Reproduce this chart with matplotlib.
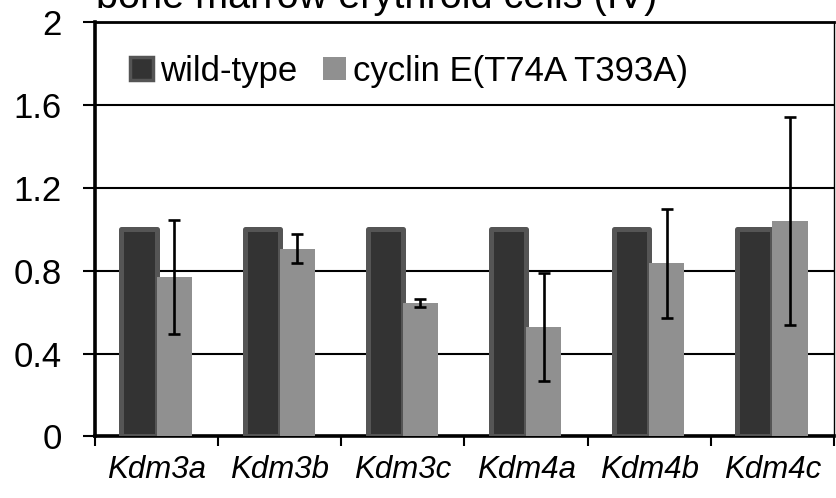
import numpy as np
import matplotlib
matplotlib.use('Agg')
import matplotlib.pyplot as plt
from matplotlib.patches import Patch

plt.rcParams['font.family'] = ['Liberation Sans', 'DejaVu Sans']

genes = ['Kdm3a', 'Kdm3b', 'Kdm3c', 'Kdm4a', 'Kdm4b', 'Kdm4c']
wild_type = [1.0, 1.0, 1.0, 1.0, 1.0, 1.0]
mutant = [0.77, 0.905, 0.645, 0.53, 0.835, 1.04]
mutant_err = [0.275, 0.07, 0.02, 0.26, 0.265, 0.50]
y_ticks = [0, 0.4, 0.8, 1.2, 1.6, 2]
y_tick_labels = ['0', '0.4', '0.8', '1.2', '1.6', '2']

dark = '#333333'
dark_edge = '#555555'
light = '#909090'

fig = plt.figure(figsize=(8.36, 4.98), dpi=100)
ax = fig.add_axes([0.1136, 0.1235, 0.8840, 0.8323])

x = np.arange(len(genes))
w = 0.285

ax.bar(x - w / 2, wild_type, w, color=dark, edgecolor=dark_edge,
       linewidth=3.6, joinstyle='round', zorder=3)
ax.bar(x + w / 2, mutant, w, color=light, linewidth=0, zorder=4)
ax.errorbar(x + w / 2, mutant, yerr=mutant_err, fmt='none', ecolor='black',
            elinewidth=1.9, capsize=4.3, capthick=1.9, zorder=5)

ax.set_xlim(-0.5, len(genes) - 0.5)
ax.set_ylim(0, 2)
ax.set_yticks(y_ticks)
ax.set_yticklabels(y_tick_labels, fontsize=25)
ax.tick_params(axis='y', direction='out', length=9, width=1.5, pad=15)

ax.set_xticks(x)
ax.set_xticklabels(genes, fontsize=22.5, style='italic')
ax.tick_params(axis='x', which='major', length=0, pad=13)
ax.set_xticks(np.arange(len(genes) + 1) - 0.5, minor=True)
ax.tick_params(axis='x', which='minor', direction='out', length=7, width=1.5)

ax.yaxis.grid(True, color='black', linewidth=1.5, zorder=0)
ax.set_axisbelow(True)

ax.spines['left'].set_linewidth(2.6)
ax.spines['bottom'].set_linewidth(2.6)
ax.spines['top'].set_linewidth(2.0)
ax.spines['right'].set_linewidth(1.0)

handles = [Patch(facecolor=dark, edgecolor=dark_edge, linewidth=2.5),
           Patch(facecolor=light, edgecolor='none')]
ax.legend(handles, ['wild-type', 'cyclin E(T74A T393A)'], ncol=2,
          loc='upper left', bbox_to_anchor=(0.029, 0.955), frameon=False,
          fontsize=25, handlelength=0.65, handleheight=0.65,
          handletextpad=0.2, columnspacing=0.75, borderaxespad=0)

fig.text(96 / 836, 1 - 8 / 498, 'bone marrow erythroid cells (IV)',
         fontsize=28.5, ha='left', va='baseline')

fig.savefig('out.png', dpi=100)
